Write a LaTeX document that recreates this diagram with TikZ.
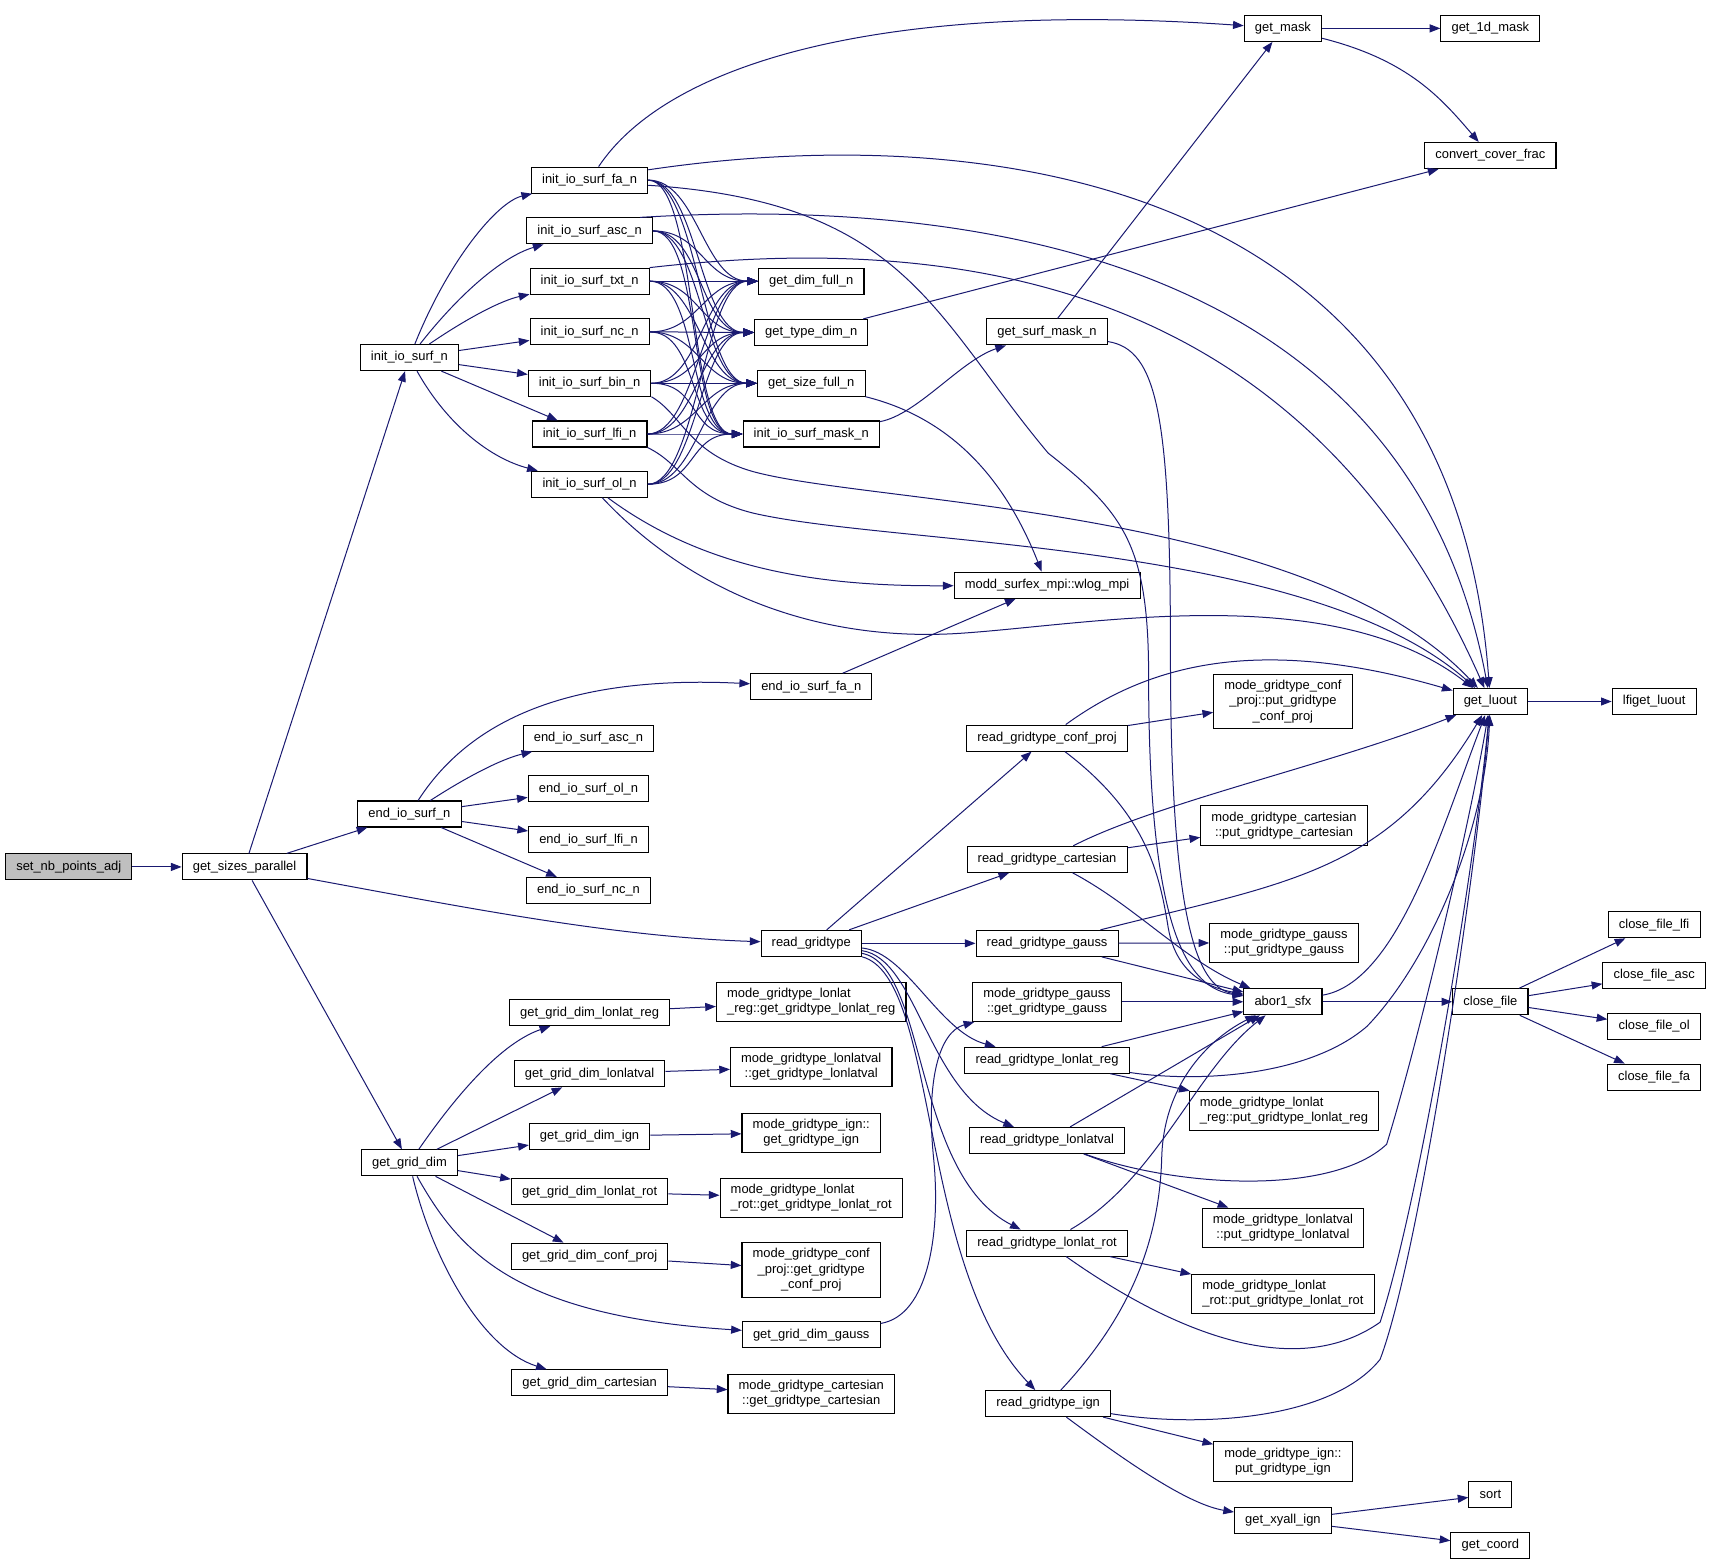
\documentclass[tikz,border=0pt]{standalone}
\usepackage{fontspec}
\setmainfont{Liberation Sans}
\usetikzlibrary{arrows.meta}
\definecolor{callblue}{HTML}{191970}
\definecolor{rootgray}{HTML}{BFBFBF}
\tikzset{
	fn/.style={draw=black, fill=white, line width=0.8pt, inner xsep=8pt, inner ysep=4.5pt, minimum height=19.5pt, font=\fontsize{9.7}{11.5}\selectfont, align=center}, % every function box
	rootfn/.style={fn, fill=rootgray}, % the function the graph is drawn for
	fnl/.style={fn, align=left}, % boxes whose lines start at the left
	call/.style={draw=callblue, line width=0.75pt, -{Triangle[length=8pt,width=6pt]}}, % one call
}
\begin{document}
\begin{tikzpicture}[x=0.819pt,y=-0.819pt]
	\fill[white] (0,0) rectangle (1568,1433);
	\useasboundingbox (0,0) rectangle (1568,1433);
	% first columns
	\node[rootfn] (snpa) at (63,794) {set\_nb\_points\_adj};
	\node[fn] (gsp) at (224,794) {get\_sizes\_parallel};
	\node[fn] (iis) at (375,327.5) {init\_io\_surf\_n};
	\node[fn] (eis) at (375,745.5) {end\_io\_surf\_n};
	\node[fn] (ggd) at (375,1065) {get\_grid\_dim};
	\node[fn] (rg) at (743,864) {read\_gridtype};
	% init_io_surf_* column
	\node[fn] (ifa) at (540,165) {init\_io\_surf\_fa\_n};
	\node[fn] (iasc) at (540,211.5) {init\_io\_surf\_asc\_n};
	\node[fn] (itxt) at (540,257.5) {init\_io\_surf\_txt\_n};
	\node[fn] (inc) at (540,304) {init\_io\_surf\_nc\_n};
	\node[fn] (ibin) at (540,351) {init\_io\_surf\_bin\_n};
	\node[fn] (ilfi) at (540,397.5) {init\_io\_surf\_lfi\_n};
	\node[fn] (iol) at (540,443.5) {init\_io\_surf\_ol\_n};
	\node[fn] (gdf) at (743,257.5) {get\_dim\_full\_n};
	\node[fn] (gtd) at (743,304.5) {get\_type\_dim\_n};
	\node[fn] (gsf) at (743,351) {get\_size\_full\_n};
	\node[fn] (imask) at (743,397.5) {init\_io\_surf\_mask\_n};
	\node[fn] (gmask) at (1175,26) {get\_mask};
	\node[fn] (g1d) at (1365,26) {get\_1d\_mask};
	\node[fn] (ccf) at (1365,142.5) {convert\_cover\_frac};
	\node[fn] (gsm) at (959,304) {get\_surf\_mask\_n};
	\node[fn] (wlog) at (959,536) {modd\_surfex\_mpi::wlog\_mpi};
	% end_io_surf_* column
	\node[fn] (efa) at (743,629) {end\_io\_surf\_fa\_n};
	\node[fn] (easc) at (539,676) {end\_io\_surf\_asc\_n};
	\node[fn] (eol) at (539,722.5) {end\_io\_surf\_ol\_n};
	\node[fn] (elfi) at (539,769) {end\_io\_surf\_lfi\_n};
	\node[fn] (enc) at (539,815.5) {end\_io\_surf\_nc\_n};
	\node[fn] (luout) at (1365,642.5) {get\_luout};
	\node[fn] (lfiluout) at (1515,642.5) {lfiget\_luout};
	% read_gridtype_* column
	\node[fn] (rcp) at (959,676) {read\_gridtype\_conf\_proj};
	\node[fn] (mcpput) at (1175,642.5) {mode\_gridtype\_conf\\\_proj::put\_gridtype\\\_conf\_proj};
	\node[fn] (rca) at (959,787) {read\_gridtype\_cartesian};
	\node[fn] (mcaput) at (1176,756) {mode\_gridtype\_cartesian\\::put\_gridtype\_cartesian};
	\node[fn] (rga) at (959,864) {read\_gridtype\_gauss};
	\node[fn] (mgaput) at (1176,863.5) {mode\_gridtype\_gauss\\::put\_gridtype\_gauss};
	\node[fn] (mgaget) at (959,917.5) {mode\_gridtype\_gauss\\::get\_gridtype\_gauss};
	\node[fn] (abor) at (1175,917.5) {abor1\_sfx};
	\node[fn] (cfile) at (1365,917.5) {close\_file};
	\node[fn] (cflfi) at (1515,847) {close\_file\_lfi};
	\node[fn] (cfasc) at (1515,893.5) {close\_file\_asc};
	\node[fn] (cfol) at (1515,940) {close\_file\_ol};
	\node[fn] (cffa) at (1515,986.5) {close\_file\_fa};
	\node[fn] (rlr) at (959,971) {read\_gridtype\_lonlat\_reg};
	\node[fnl] (mlrput) at (1176,1017.5) {mode\_gridtype\_lonlat\\\_reg::put\_gridtype\_lonlat\_reg};
	\node[fn] (rlv) at (959,1044.5) {read\_gridtype\_lonlatval};
	\node[fn] (mlvput) at (1175,1124.5) {mode\_gridtype\_lonlatval\\::put\_gridtype\_lonlatval};
	\node[fn] (rlrot) at (959,1138.5) {read\_gridtype\_lonlat\_rot};
	\node[fnl] (mlrotput) at (1175,1185) {mode\_gridtype\_lonlat\\\_rot::put\_gridtype\_lonlat\_rot};
	\node[fn] (rign) at (960,1285.5) {read\_gridtype\_ign};
	\node[fn] (mignput) at (1175,1338.5) {mode\_gridtype\_ign::\\put\_gridtype\_ign};
	\node[fn] (xyall) at (1175,1392.5) {get\_xyall\_ign};
	\node[fn] (sort) at (1365,1369) {sort};
	\node[fn] (coord) at (1365,1415.5) {get\_coord};
	% get_grid_dim_* column
	\node[fn] (gdlr) at (540,927.5) {get\_grid\_dim\_lonlat\_reg};
	\node[fn] (gdlv) at (540,983.5) {get\_grid\_dim\_lonlatval};
	\node[fn] (gdign) at (540,1040.5) {get\_grid\_dim\_ign};
	\node[fn] (gdrot) at (540,1091.5) {get\_grid\_dim\_lonlat\_rot};
	\node[fn] (gdcp) at (540,1150.5) {get\_grid\_dim\_conf\_proj};
	\node[fn] (gdga) at (743,1222.5) {get\_grid\_dim\_gauss};
	\node[fn] (gdca) at (540,1266.5) {get\_grid\_dim\_cartesian};
	\node[fnl] (mlrget) at (743,917.5) {mode\_gridtype\_lonlat\\\_reg::get\_gridtype\_lonlat\_reg};
	\node[fn] (mlvget) at (743,977) {mode\_gridtype\_lonlatval\\::get\_gridtype\_lonlatval};
	\node[fn] (mignget) at (743,1037.5) {mode\_gridtype\_ign::\\get\_gridtype\_ign};
	\node[fnl] (mrotget) at (743,1097) {mode\_gridtype\_lonlat\\\_rot::get\_gridtype\_lonlat\_rot};
	\node[fn] (mcpget) at (743,1163) {mode\_gridtype\_conf\\\_proj::get\_gridtype\\\_conf\_proj};
	\node[fn] (mcaget) at (743,1276.5) {mode\_gridtype\_cartesian\\::get\_gridtype\_cartesian};

	% calls from the root
	\draw[call] (snpa) -- (gsp);
	\draw[call] (gsp) -- (iis);
	\draw[call] (gsp) -- (eis);
	\draw[call] (gsp) .. controls (420,830) and (560,858) .. (rg);
	\draw[call] (gsp) -- (ggd);
	% init_io_surf_n
	\draw[call] (iis) .. controls (410,240) and (455,185) .. (ifa);
	\draw[call] (iis) .. controls (420,270) and (460,235) .. (iasc);
	\draw[call] (iis) .. controls (430,290) and (460,275) .. (itxt);
	\draw[call] (iis) -- (inc);
	\draw[call] (iis) -- (ibin);
	\draw[call] (iis) -- (ilfi);
	\draw[call] (iis) .. controls (410,390) and (450,420) .. (iol);
	\foreach \src in {ifa,iasc,itxt,inc,ibin,ilfi,iol}
		\foreach \dst in {gdf,gtd,gsf,imask}
			\draw[call] (\src.east) .. controls +(45,0) and +(-50,0) .. (\dst.west);
	\draw[call] (ifa) .. controls (610,60) and (800,0) .. (gmask);
	\draw[call] (ifa.10) .. controls (900,110) and (1330,160) .. (luout);
	\draw[call] (ifa.-5) .. controls (830,185) and (855,290) .. (960,415) .. controls (1030,470) and (1052,500) .. (1052,620) .. controls (1052,860) and (1090,905) .. (abor);
	\draw[call] (iasc.15) .. controls (900,180) and (1290,240) .. (luout);
	\draw[call] (itxt.north east) .. controls (900,210) and (1200,270) .. (luout);
	\draw[call] (ibin.south east) .. controls (625,380) and (630,415) .. (690,432) .. controls (800,462) and (1200,465) .. (luout);
	\draw[call] (ilfi.south east) .. controls (625,425) and (630,455) .. (690,470) .. controls (820,500) and (1200,495) .. (luout);
	\draw[call] (iol) .. controls (640,550) and (760,588) .. (880,580) .. controls (1000,572) and (1220,530) .. (luout);
	\draw[call] (iol) .. controls (650,525) and (760,537) .. (wlog);
	\draw[call] (imask) .. controls (840,380) and (880,330) .. (gsm);
	\draw[call] (gsm) -- (gmask);
	\draw[call] (gsm) .. controls (1060,320) and (1072,380) .. (1072,600) .. controls (1072,860) and (1100,905) .. (abor);
	\draw[call] (gtd) -- (ccf);
	\draw[call] (gmask) -- (g1d);
	\draw[call] (gmask) .. controls (1290,55) and (1320,90) .. (ccf);
	\draw[call] (gsf) .. controls (880,385) and (925,450) .. (wlog);
	% end_io_surf_n
	\draw[call] (eis) .. controls (430,660) and (520,618) .. (efa);
	\draw[call] (eis) .. controls (430,710) and (460,695) .. (easc);
	\draw[call] (eis) -- (eol);
	\draw[call] (eis) -- (elfi);
	\draw[call] (eis) -- (enc);
	\draw[call] (efa) -- (wlog);
	\draw[call] (luout) -- (lfiluout);
	% read_gridtype
	\draw[call] (rg) -- (rcp);
	\draw[call] (rg) -- (rca);
	\draw[call] (rg) -- (rga);
	\draw[call] (rg) .. controls (830,872) and (860,945) .. (rlr);
	\draw[call] (rg) .. controls (840,878) and (850,1000) .. (rlv);
	\draw[call] (rg) .. controls (850,885) and (835,1075) .. (rlrot);
	\draw[call] (rg) .. controls (860,895) and (840,1160) .. (rign);
	\draw[call] (rcp) -- (mcpput);
	\draw[call] (rca) -- (mcaput);
	\draw[call] (rga) -- (mgaput);
	\draw[call] (rlr) -- (mlrput);
	\draw[call] (rlv) -- (mlvput);
	\draw[call] (rlrot) -- (mlrotput);
	\draw[call] (rign) -- (mignput);
	\draw[call] (rign) .. controls (1040,1345) and (1090,1378) .. (xyall);
	\draw[call] (xyall) -- (sort);
	\draw[call] (xyall) -- (coord);
	% abor1_sfx
	\draw[call] (rcp) .. controls (1050,745) and (1062,800) .. (1070,850) .. controls (1078,895) and (1110,905) .. (abor);
	\draw[call] (rca) .. controls (1040,830) and (1085,880) .. (abor);
	\draw[call] (rga) -- (abor);
	\draw[call] (mgaget) -- (abor);
	\draw[call] (rlr) -- (abor);
	\draw[call] (rlv) -- (abor);
	\draw[call] (rlrot) .. controls (1060,1080) and (1095,980) .. (abor);
	\draw[call] (rign) .. controls (1040,1200) and (1062,1130) .. (1064,1060) .. controls (1066,990) and (1110,950) .. (abor);
	\draw[call] (abor) .. controls (1280,900) and (1320,760) .. (luout);
	\draw[call] (abor) -- (cfile);
	\foreach \dst in {cflfi,cfasc,cfol,cffa}
		\draw[call] (cfile) -- (\dst);
	% get_luout from below
	\draw[call] (rcp) .. controls (1050,610) and (1150,580) .. (luout);
	\draw[call] (rca) .. controls (1060,735) and (1220,700) .. (luout);
	\draw[call] (rga) .. controls (1180,808) and (1270,800) .. (luout);
	\draw[call] (rlr) .. controls (1100,992) and (1200,985) .. (1252,940) .. controls (1310,880) and (1360,760) .. (luout);
	\draw[call] (rlv) .. controls (1080,1088) and (1220,1095) .. (1270,1048) .. controls (1300,950) and (1345,760) .. (luout);
	\draw[call] (rlrot) .. controls (1060,1210) and (1180,1270) .. (1264,1211) .. controls (1300,1100) and (1350,800) .. (luout);
	\draw[call] (rign) .. controls (1100,1308) and (1220,1300) .. (1264,1245) .. controls (1300,1150) and (1352,800) .. (luout);
	% get_grid_dim
	\draw[call] (ggd) .. controls (420,1000) and (460,955) .. (gdlr);
	\draw[call] (ggd) -- (gdlv);
	\draw[call] (ggd) -- (gdign);
	\draw[call] (ggd) -- (gdrot);
	\draw[call] (ggd) -- (gdcp);
	\draw[call] (ggd) .. controls (420,1145) and (470,1205) .. (gdga);
	\draw[call] (ggd) .. controls (395,1150) and (440,1235) .. (gdca);
	\draw[call] (gdlr) -- (mlrget);
	\draw[call] (gdlv) -- (mlvget);
	\draw[call] (gdign) -- (mignget);
	\draw[call] (gdrot) -- (mrotget);
	\draw[call] (gdcp) -- (mcpget);
	\draw[call] (gdca) -- (mcaget);
	\draw[call] (gdga) .. controls (850,1205) and (862,1130) .. (855,1060) .. controls (848,990) and (860,945) .. (mgaget);
\end{tikzpicture}
\end{document}
